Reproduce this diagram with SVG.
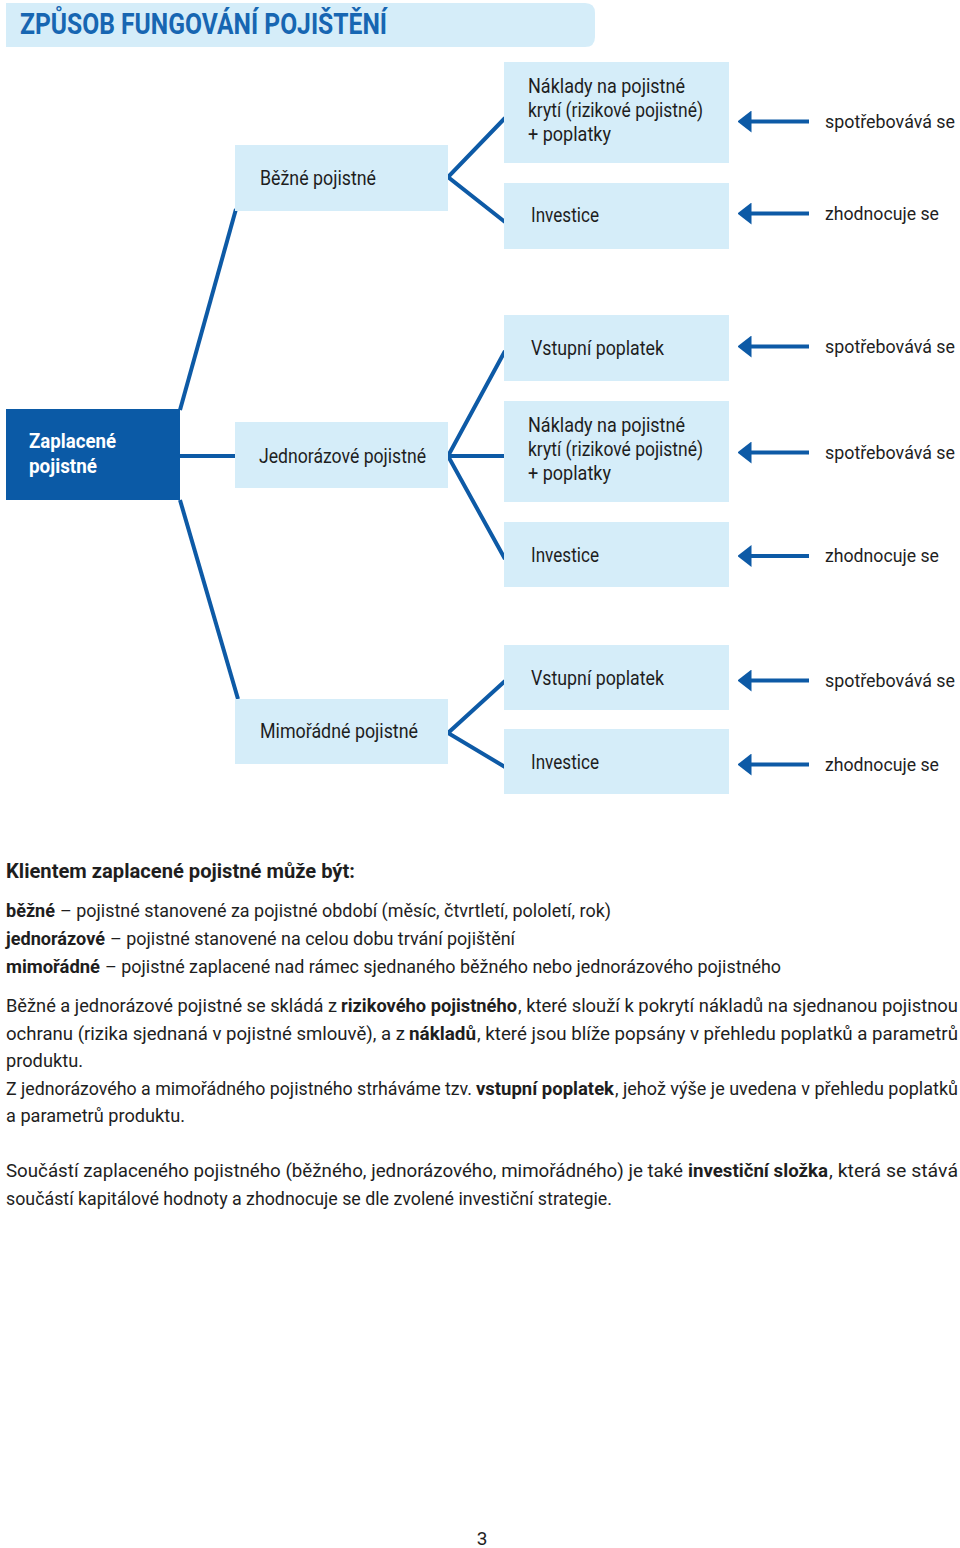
<svg xmlns="http://www.w3.org/2000/svg" width="960" height="1548" viewBox="0 0 960 1548">
<style>
  text { font-family: Roboto, "Liberation Sans", sans-serif; fill: #1e1e1e; }
  .box { fill: #d5edf9; }
  .main { fill: #0b5aa6; }
  .lbl { font-size: 20px; }
  .rl { font-size: 18.5px; }
  .wl { font-size: 20px; fill: #ffffff; font-weight: bold; }
  .body { font-size: 18.4px; }
  .b { font-weight: bold; }
  .title { font-size: 29px; font-weight: bold; fill: #1766b2; }
  .conn line, .conn polyline { stroke: #0d5aa6; stroke-width: 4; fill: none; }
  .arr { stroke: #0d5aa6; stroke-width: 4.3; marker-end: url(#ah); }
</style>
<defs>
  <marker id="ah" viewBox="0 0 14 22" markerWidth="14" markerHeight="22" refX="0.5" refY="11" orient="auto" markerUnits="userSpaceOnUse">
    <path d="M0,0 L14,11 L0,22 Z" fill="#0d5aa6"/>
  </marker>
</defs>
<rect width="960" height="1548" fill="#ffffff"/>

<g id="title">
  <path d="M6,3 H585 Q595,3 595,13 V37 Q595,47 585,47 H6 Z" class="box"/>
  <text x="20" y="34" class="title" textLength="367" lengthAdjust="spacingAndGlyphs">ZPŮSOB FUNGOVÁNÍ POJIŠTĚNÍ</text>
</g>

<g id="connectors" class="conn">
  <line x1="180" y1="410" x2="236" y2="209"/>
  <line x1="180" y1="456" x2="236" y2="456"/>
  <line x1="180" y1="500" x2="238" y2="699"/>
  <polyline points="505,118 448,177 505,222"/>
  <polyline points="505,351 448,456 505,559"/>
  <line x1="448" y1="456" x2="505" y2="456"/>
  <polyline points="505,681 448,733 505,767"/>
  <line class="arr" x1="809" y1="121.5" x2="751" y2="121.5"/>
  <line class="arr" x1="809" y1="213.5" x2="751" y2="213.5"/>
  <line class="arr" x1="809" y1="346.5" x2="751" y2="346.5"/>
  <line class="arr" x1="809" y1="452.5" x2="751" y2="452.5"/>
  <line class="arr" x1="809" y1="556" x2="751" y2="556"/>
  <line class="arr" x1="809" y1="680.5" x2="751" y2="680.5"/>
  <line class="arr" x1="809" y1="764.5" x2="751" y2="764.5"/>
</g>

<g id="n-zaplacene">
  <rect x="6" y="409" width="174" height="91" class="main"/>
  <text x="29" y="448" class="wl" textLength="87" lengthAdjust="spacingAndGlyphs">Zaplacené</text>
  <text x="29" y="473" class="wl" textLength="68" lengthAdjust="spacingAndGlyphs">pojistné</text>
</g>

<g id="n-bezne">
  <rect x="235" y="145" width="213" height="66" class="box"/>
  <text x="260" y="185" class="lbl" textLength="116" lengthAdjust="spacingAndGlyphs">Běžné pojistné</text>
</g>
<g id="n-jednorazove">
  <rect x="235" y="422" width="213" height="66" class="box"/>
  <text x="259" y="463" class="lbl" textLength="167" lengthAdjust="spacingAndGlyphs">Jednorázové pojistné</text>
</g>
<g id="n-mimoradne">
  <rect x="235" y="699" width="213" height="65" class="box"/>
  <text x="260" y="738" class="lbl" textLength="158" lengthAdjust="spacingAndGlyphs">Mimořádné pojistné</text>
</g>

<g id="n-naklady-1">
  <rect x="504" y="62" width="225" height="101" class="box"/>
  <text x="528" y="93" class="lbl" textLength="157" lengthAdjust="spacingAndGlyphs">Náklady na pojistné</text>
  <text x="528" y="117" class="lbl" textLength="175" lengthAdjust="spacingAndGlyphs">krytí (rizikové pojistné)</text>
  <text x="528" y="141" class="lbl" textLength="83" lengthAdjust="spacingAndGlyphs">+ poplatky</text>
</g>
<g id="n-investice-1">
  <rect x="504" y="183" width="225" height="66" class="box"/>
  <text x="531" y="222" class="lbl" textLength="68" lengthAdjust="spacingAndGlyphs">Investice</text>
</g>
<g id="n-vstupni-2">
  <rect x="504" y="315" width="225" height="66" class="box"/>
  <text x="531" y="355" class="lbl" textLength="133" lengthAdjust="spacingAndGlyphs">Vstupní poplatek</text>
</g>
<g id="n-naklady-2">
  <rect x="504" y="401" width="225" height="101" class="box"/>
  <text x="528" y="432" class="lbl" textLength="157" lengthAdjust="spacingAndGlyphs">Náklady na pojistné</text>
  <text x="528" y="456" class="lbl" textLength="175" lengthAdjust="spacingAndGlyphs">krytí (rizikové pojistné)</text>
  <text x="528" y="480" class="lbl" textLength="83" lengthAdjust="spacingAndGlyphs">+ poplatky</text>
</g>
<g id="n-investice-2">
  <rect x="504" y="522" width="225" height="65" class="box"/>
  <text x="531" y="562" class="lbl" textLength="68" lengthAdjust="spacingAndGlyphs">Investice</text>
</g>
<g id="n-vstupni-3">
  <rect x="504" y="645" width="225" height="65" class="box"/>
  <text x="531" y="685" class="lbl" textLength="133" lengthAdjust="spacingAndGlyphs">Vstupní poplatek</text>
</g>
<g id="n-investice-3">
  <rect x="504" y="729" width="225" height="65" class="box"/>
  <text x="531" y="769" class="lbl" textLength="68" lengthAdjust="spacingAndGlyphs">Investice</text>
</g>

<g id="n-right-labels">
  <text x="825" y="128" class="rl" textLength="130" lengthAdjust="spacingAndGlyphs">spotřebovává se</text>
  <text x="825" y="220" class="rl" textLength="114" lengthAdjust="spacingAndGlyphs">zhodnocuje se</text>
  <text x="825" y="353" class="rl" textLength="130" lengthAdjust="spacingAndGlyphs">spotřebovává se</text>
  <text x="825" y="459" class="rl" textLength="130" lengthAdjust="spacingAndGlyphs">spotřebovává se</text>
  <text x="825" y="562" class="rl" textLength="114" lengthAdjust="spacingAndGlyphs">zhodnocuje se</text>
  <text x="825" y="687" class="rl" textLength="130" lengthAdjust="spacingAndGlyphs">spotřebovává se</text>
  <text x="825" y="771" class="rl" textLength="114" lengthAdjust="spacingAndGlyphs">zhodnocuje se</text>
</g>

<g id="notes">
  <text x="6" y="878" class="body b" style="font-size:20px" textLength="349" lengthAdjust="spacingAndGlyphs">Klientem zaplacené pojistné může být:</text>

  <text x="6" y="917" class="body b" textLength="49" lengthAdjust="spacingAndGlyphs">běžné</text>
  <text x="60" y="917" class="body" textLength="551" lengthAdjust="spacingAndGlyphs">– pojistné stanovené za pojistné období (měsíc, čtvrtletí, pololetí, rok)</text>

  <text x="6" y="945" class="body b" textLength="99" lengthAdjust="spacingAndGlyphs">jednorázové</text>
  <text x="110" y="945" class="body" textLength="405" lengthAdjust="spacingAndGlyphs">– pojistné stanovené na celou dobu trvání pojištění</text>

  <text x="6" y="973" class="body b" textLength="94" lengthAdjust="spacingAndGlyphs">mimořádné</text>
  <text x="105" y="973" class="body" textLength="676" lengthAdjust="spacingAndGlyphs">– pojistné zaplacené nad rámec sjednaného běžného nebo jednorázového pojistného</text>

  <text x="6" y="1012" class="body" textLength="331" lengthAdjust="spacingAndGlyphs">Běžné a jednorázové pojistné se skládá z</text>
  <text x="341" y="1012" class="body b" textLength="176" lengthAdjust="spacingAndGlyphs">rizikového pojistného</text>
  <text x="518" y="1012" class="body" textLength="440" lengthAdjust="spacingAndGlyphs">, které slouží k pokrytí nákladů na sjednanou pojistnou</text>

  <text x="6" y="1040" class="body" textLength="399" lengthAdjust="spacingAndGlyphs">ochranu (rizika sjednaná v pojistné smlouvě), a z</text>
  <text x="409" y="1040" class="body b" textLength="67" lengthAdjust="spacingAndGlyphs">nákladů</text>
  <text x="477" y="1040" class="body" textLength="481" lengthAdjust="spacingAndGlyphs">, které jsou blíže popsány v přehledu poplatků a parametrů</text>

  <text x="6" y="1067" class="body" textLength="77" lengthAdjust="spacingAndGlyphs">produktu.</text>

  <text x="6" y="1095" class="body" textLength="466" lengthAdjust="spacingAndGlyphs">Z jednorázového a mimořádného pojistného strháváme tzv.</text>
  <text x="476" y="1095" class="body b" textLength="138" lengthAdjust="spacingAndGlyphs">vstupní poplatek</text>
  <text x="615" y="1095" class="body" style="font-size:17.6px" textLength="343" lengthAdjust="spacingAndGlyphs">, jehož výše je uvedena v přehledu poplatků</text>

  <text x="6" y="1122" class="body" textLength="179" lengthAdjust="spacingAndGlyphs">a parametrů produktu.</text>

  <text x="6" y="1177" class="body" textLength="677" lengthAdjust="spacingAndGlyphs">Součástí zaplaceného pojistného (běžného, jednorázového, mimořádného) je také</text>
  <text x="688" y="1177" class="body b" textLength="140" lengthAdjust="spacingAndGlyphs">investiční složka</text>
  <text x="829" y="1177" class="body" textLength="129" lengthAdjust="spacingAndGlyphs">, která se stává</text>

  <text x="6" y="1205" class="body" textLength="606" lengthAdjust="spacingAndGlyphs">součástí kapitálové hodnoty a zhodnocuje se dle zvolené investiční strategie.</text>
</g>

<g id="page-number">
  <text x="482" y="1545" class="body" style="font-size:19px" text-anchor="middle">3</text>
</g>
</svg>
